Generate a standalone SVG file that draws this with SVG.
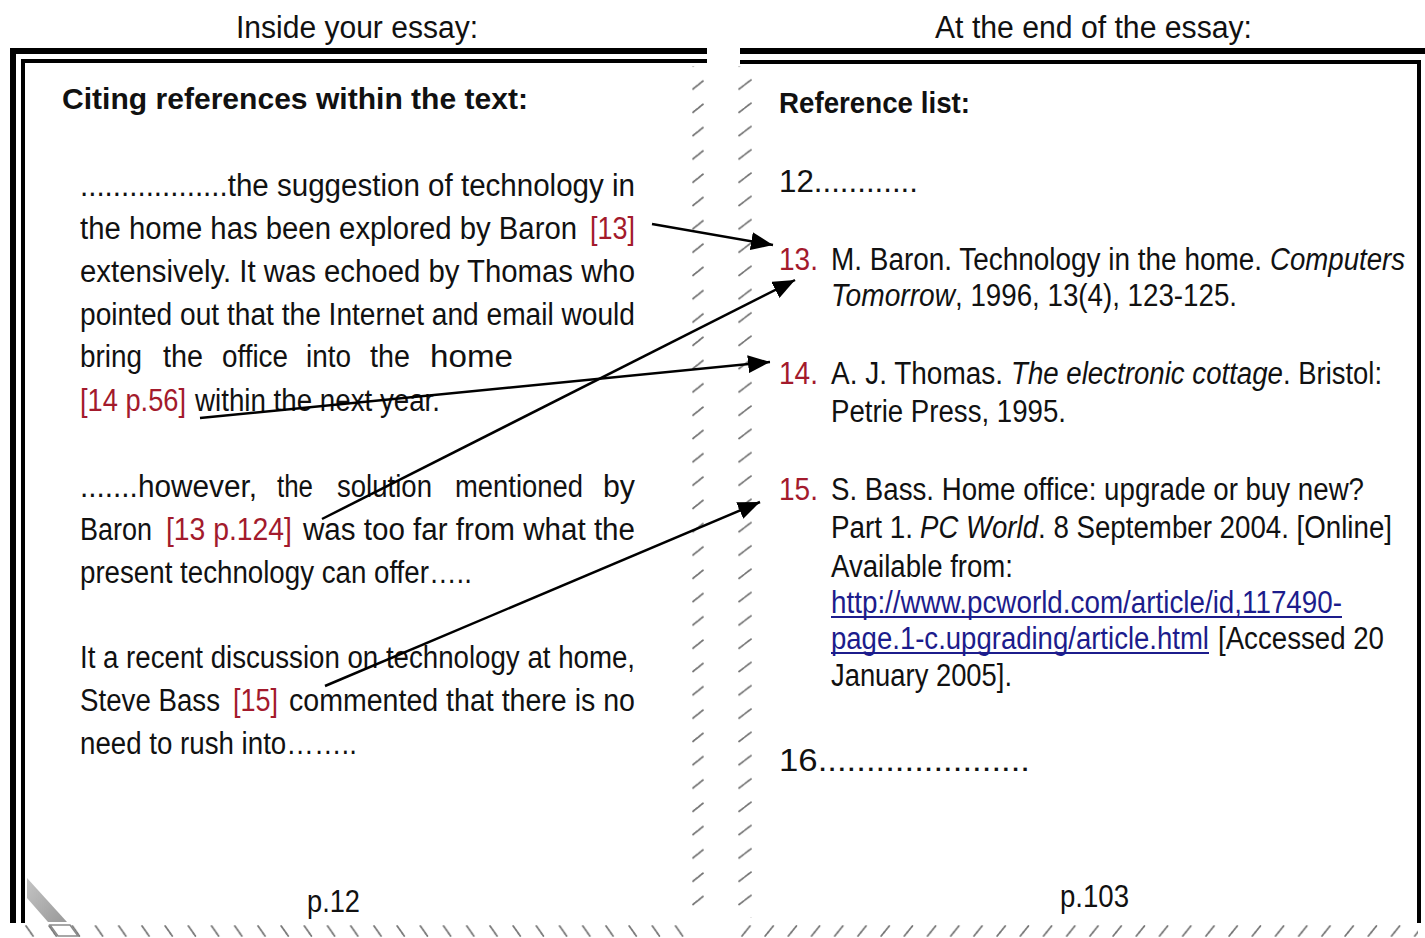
<svg xmlns="http://www.w3.org/2000/svg" width="1425" height="938" viewBox="0 0 1425 938">
  <style>
    .t { font-family: "Liberation Sans Narrow", "Liberation Sans", Arial, sans-serif; font-size: 31px; fill: #111; }
    .h { font-size: 31px; }
    .b { font-weight: bold; font-size: 30px; }
    .i { font-style: italic; }
    .r { fill: #a31a2c; }
    .u { fill: #1c1c8c; }
    .edge { fill: #000; }
    .link-ul { stroke: #1c1c8c; stroke-width: 2; }
    .conn { stroke: #000; stroke-width: 2.5; fill: none; marker-end: url(#head); }
    .dash { stroke: #777; stroke-width: 1.8; stroke-linecap: round; stroke-dasharray: 2.5 1.2; }
  </style>
  <defs>
    <marker id="head" markerUnits="userSpaceOnUse" markerWidth="24" markerHeight="18" refX="22" refY="9" orient="auto">
      <path d="M0,0 L22,9 L0,18 Z" fill="#000"/>
    </marker>
    <!-- torn page edges drawn as rows of short slanted dashes -->
    <pattern id="dashL" patternUnits="userSpaceOnUse" x="690" y="74" width="16" height="23.3">
      <path class="dash" d="M3,15 L13,7"/>
    </pattern>
    <pattern id="dashR" patternUnits="userSpaceOnUse" x="736" y="74" width="18" height="23.3">
      <path class="dash" d="M3,15 L15,6"/>
    </pattern>
    <pattern id="dashBL" patternUnits="userSpaceOnUse" x="23" y="922" width="23.2" height="16">
      <path class="dash" d="M3,4 L10,14"/>
    </pattern>
    <pattern id="dashBR" patternUnits="userSpaceOnUse" x="738" y="922" width="23.2" height="16">
      <path class="dash" d="M4,14 L12,4"/>
    </pattern>
    <linearGradient id="curl" x1="0" y1="0" x2="1" y2="1">
      <stop offset="0" stop-color="#c4c4c4"/>
      <stop offset="1" stop-color="#999"/>
    </linearGradient>
  </defs>

  <rect width="1425" height="938" fill="#fff"/>

  <!-- column captions -->
  <text class="t h" x="236" y="38" textLength="242" lengthAdjust="spacingAndGlyphs">Inside your essay:</text>
  <text class="t h" x="935" y="38" textLength="317" lengthAdjust="spacingAndGlyphs">At the end of the essay:</text>

  <!-- left page frame -->
  <g id="left-page">
    <rect class="edge" x="10" y="48" width="697" height="6"/>
    <rect class="edge" x="21" y="59" width="686" height="4"/>
    <rect class="edge" x="10" y="48" width="6" height="875"/>
    <rect class="edge" x="21" y="59" width="4" height="864"/>
    <rect x="688" y="66" width="20" height="852" fill="url(#dashL)"/>
    <rect x="23" y="922" width="667" height="16" fill="url(#dashBL)"/>
    <!-- curled corner -->
    <path d="M27,878 L67,922 L48,922 L27,898 Z" fill="url(#curl)"/>
    <path d="M50,925 L70,925 L78,936 L58,936 Z" fill="#fff" stroke="#8a8a8a" stroke-width="1.5"/>

    <text class="t b" x="62" y="109" textLength="466" lengthAdjust="spacingAndGlyphs">Citing references within the text:</text>
    <text class="t" x="307" y="912" textLength="53" lengthAdjust="spacingAndGlyphs">p.12</text>
  </g>

  <!-- first citing paragraph -->
  <g id="cite-baron-thomas">
    <text class="t" x="80" y="196" textLength="555" lengthAdjust="spacingAndGlyphs">..................the suggestion of technology in</text>
    <text class="t" x="80" y="239" textLength="497" lengthAdjust="spacingAndGlyphs">the home has been explored by Baron</text>
    <text class="t r" x="590" y="239" textLength="45" lengthAdjust="spacingAndGlyphs">[13]</text>
    <text class="t" x="80" y="282" textLength="555" lengthAdjust="spacingAndGlyphs">extensively. It was echoed by Thomas who</text>
    <text class="t" x="80" y="325" textLength="555" lengthAdjust="spacingAndGlyphs">pointed out that the Internet and email would</text>
    <text class="t" x="80" y="367" textLength="62" lengthAdjust="spacingAndGlyphs">bring</text>
    <text class="t" x="163" y="367" textLength="40" lengthAdjust="spacingAndGlyphs">the</text>
    <text class="t" x="222" y="367" textLength="66" lengthAdjust="spacingAndGlyphs">office</text>
    <text class="t" x="306" y="367" textLength="45" lengthAdjust="spacingAndGlyphs">into</text>
    <text class="t" x="370" y="367" textLength="40" lengthAdjust="spacingAndGlyphs">the</text>
    <text class="t" x="430" y="367" textLength="83" lengthAdjust="spacingAndGlyphs">home</text>
    <text class="t r" x="80" y="411" textLength="106" lengthAdjust="spacingAndGlyphs">[14 p.56]</text>
    <text class="t" x="195" y="411" textLength="245" lengthAdjust="spacingAndGlyphs">within the next year.</text>
  </g>

  <!-- second citing paragraph -->
  <g id="cite-baron-page">
    <text class="t" x="80" y="497" textLength="177" lengthAdjust="spacingAndGlyphs">.......however,</text>
    <text class="t" x="277" y="497" textLength="36" lengthAdjust="spacingAndGlyphs">the</text>
    <text class="t" x="337" y="497" textLength="95" lengthAdjust="spacingAndGlyphs">solution</text>
    <text class="t" x="455" y="497" textLength="128" lengthAdjust="spacingAndGlyphs">mentioned</text>
    <text class="t" x="603" y="497" textLength="32" lengthAdjust="spacingAndGlyphs">by</text>
    <text class="t" x="80" y="540" textLength="72" lengthAdjust="spacingAndGlyphs">Baron</text>
    <text class="t r" x="166" y="540" textLength="126" lengthAdjust="spacingAndGlyphs">[13 p.124]</text>
    <text class="t" x="303" y="540" textLength="332" lengthAdjust="spacingAndGlyphs">was too far from what the</text>
    <text class="t" x="80" y="583" textLength="392" lengthAdjust="spacingAndGlyphs">present technology can offer…..</text>
  </g>

  <!-- third citing paragraph -->
  <g id="cite-bass">
    <text class="t" x="80" y="668" textLength="555" lengthAdjust="spacingAndGlyphs">It a recent discussion on technology at home,</text>
    <text class="t" x="80" y="711" textLength="140" lengthAdjust="spacingAndGlyphs">Steve Bass</text>
    <text class="t r" x="233" y="711" textLength="45" lengthAdjust="spacingAndGlyphs">[15]</text>
    <text class="t" x="289" y="711" textLength="346" lengthAdjust="spacingAndGlyphs">commented that there is no</text>
    <text class="t" x="80" y="754" textLength="277" lengthAdjust="spacingAndGlyphs">need to rush into……..</text>
  </g>

  <!-- right page frame -->
  <g id="right-page">
    <rect class="edge" x="740" y="48" width="685" height="6"/>
    <rect class="edge" x="740" y="60" width="681" height="4"/>
    <rect class="edge" x="1417" y="60" width="4" height="863"/>
    <rect x="734" y="66" width="22" height="852" fill="url(#dashR)"/>
    <rect x="738" y="922" width="680" height="16" fill="url(#dashBR)"/>

    <text class="t b" x="779" y="113" textLength="191" lengthAdjust="spacingAndGlyphs">Reference list:</text>
    <text class="t" x="779" y="192" textLength="139" lengthAdjust="spacingAndGlyphs">12............</text>
    <text class="t" x="779" y="771" textLength="251" lengthAdjust="spacingAndGlyphs">16......................</text>
    <text class="t" x="1060" y="907" textLength="69" lengthAdjust="spacingAndGlyphs">p.103</text>
  </g>

  <g id="ref-13">
    <text class="t r" x="779" y="270" textLength="39" lengthAdjust="spacingAndGlyphs">13.</text>
    <text class="t" x="831" y="270" textLength="431" lengthAdjust="spacingAndGlyphs">M. Baron. Technology in the home.</text>
    <text class="t i" x="1270" y="270" textLength="135" lengthAdjust="spacingAndGlyphs">Computers</text>
    <text class="t i" x="831" y="306" textLength="124" lengthAdjust="spacingAndGlyphs">Tomorrow</text>
    <text class="t" x="955" y="306" textLength="282" lengthAdjust="spacingAndGlyphs">, 1996, 13(4), 123-125.</text>
  </g>

  <g id="ref-14">
    <text class="t r" x="779" y="384" textLength="39" lengthAdjust="spacingAndGlyphs">14.</text>
    <text class="t" x="831" y="384" textLength="172" lengthAdjust="spacingAndGlyphs">A. J. Thomas.</text>
    <text class="t i" x="1011" y="384" textLength="272" lengthAdjust="spacingAndGlyphs">The electronic cottage</text>
    <text class="t" x="1283" y="384" textLength="99" lengthAdjust="spacingAndGlyphs">. Bristol:</text>
    <text class="t" x="831" y="422" textLength="235" lengthAdjust="spacingAndGlyphs">Petrie Press, 1995.</text>
  </g>

  <g id="ref-15">
    <text class="t r" x="779" y="500" textLength="39" lengthAdjust="spacingAndGlyphs">15.</text>
    <text class="t" x="831" y="500" textLength="533" lengthAdjust="spacingAndGlyphs">S. Bass. Home office: upgrade or buy new?</text>
    <text class="t" x="831" y="538" textLength="82" lengthAdjust="spacingAndGlyphs">Part 1.</text>
    <text class="t i" x="920" y="538" textLength="118" lengthAdjust="spacingAndGlyphs">PC World</text>
    <text class="t" x="1038" y="538" textLength="354" lengthAdjust="spacingAndGlyphs">. 8 September 2004. [Online]</text>
    <text class="t" x="831" y="577" textLength="182" lengthAdjust="spacingAndGlyphs">Available from:</text>
    <text class="t u" x="831" y="613" textLength="511" lengthAdjust="spacingAndGlyphs">http://www.pcworld.com/article/id,117490-</text>
    <line class="link-ul" x1="831" y1="617" x2="1342" y2="617"/>
    <text class="t u" x="831" y="649" textLength="378" lengthAdjust="spacingAndGlyphs">page.1-c.upgrading/article.html</text>
    <line class="link-ul" x1="831" y1="653" x2="1209" y2="653"/>
    <text class="t" x="1218" y="649" textLength="166" lengthAdjust="spacingAndGlyphs">[Accessed 20</text>
    <text class="t" x="831" y="686" textLength="181" lengthAdjust="spacingAndGlyphs">January 2005].</text>
  </g>

  <!-- citation-to-reference links -->
  <g id="connectors">
    <line class="conn" x1="652" y1="224" x2="773" y2="245"/>
    <line class="conn" x1="322" y1="519" x2="795" y2="280"/>
    <line class="conn" x1="200" y1="418" x2="770" y2="362"/>
    <line class="conn" x1="325" y1="686" x2="760" y2="502"/>
  </g>
</svg>
